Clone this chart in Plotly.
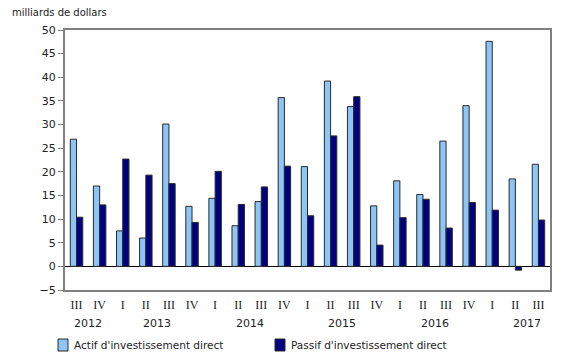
import plotly.graph_objects as go

quarters = ["III", "IV", "I", "II", "III", "IV", "I", "II", "III", "IV", "I",
            "II", "III", "IV", "I", "II", "III", "IV", "I", "II", "III"]
years = ["2012", "2013", "2014", "2015", "2016", "2017"]
year_centers = [0.5, 3.5, 7.5, 11.5, 15.5, 19.5]
actif = [26.9, 17.0, 7.5, 6.0, 30.1, 12.7, 14.4, 8.6, 13.7, 35.7, 21.1,
         39.2, 33.8, 12.8, 18.1, 15.2, 26.5, 34.0, 47.6, 18.5, 21.6]
passif = [10.4, 13.0, 22.7, 19.3, 17.5, 9.3, 20.1, 13.1, 16.8, 21.2, 10.7,
          27.6, 35.9, 4.5, 10.3, 14.2, 8.1, 13.5, 11.9, -0.8, 9.8]
series_names = ["Actif d'investissement direct", "Passif d'investissement direct"]
colors = ["#8EC5F7", "#000080"]
y_ticks = list(range(-5, 51, 5))

x = list(range(len(quarters)))
font = "DejaVu Sans, Verdana, sans-serif"
W, L, R = 580, 65, 30
pw = W - L - R

fig = go.Figure()
for name, vals, col in zip(series_names, [actif, passif], colors):
    fig.add_trace(go.Bar(x=x, y=vals, name=name, showlegend=False,
                         marker=dict(color=col, line=dict(color="#2a2a2a", width=1))))

annotations = [dict(text="milliards de dollars", xref="paper", yref="paper",
                    x=(10 - L) / pw, y=1.0, yshift=10, xanchor="left", yanchor="bottom",
                    showarrow=False, font=dict(family=font, size=10, color="#222"))]
for yr, c in zip(years, year_centers):
    annotations.append(dict(text=yr, x=c, xref="x", y=0, yref="paper", yshift=-25,
                            xanchor="center", yanchor="top", showarrow=False,
                            font=dict(family=font, size=11, color="#222")))

# manual legend
shapes = []
legend_px = [58, 275]
for name, col, px in zip(series_names, colors, legend_px):
    x0 = (px - L) / pw
    x1 = (px + 10 - L) / pw
    shapes.append(dict(type="rect", xref="paper", yref="paper",
                       x0=x0, x1=x1, y0=(290 - 351) / 260, y1=(290 - 339) / 260,
                       fillcolor=col, line=dict(color="#2a2a2a", width=1)))
    annotations.append(dict(text=name, xref="paper", yref="paper",
                            x=(px + 14 - L) / pw, y=(290 - 345) / 260,
                            xanchor="left", yanchor="middle", showarrow=False,
                            font=dict(family=font, size=10.5, color="#222")))

fig.update_layout(
    width=580, height=360,
    margin=dict(l=L, r=R, t=30, b=70, autoexpand=False),
    plot_bgcolor="white", paper_bgcolor="white",
    barmode="group", bargap=0.46, bargroupgap=0.0,
    font=dict(family=font, size=11, color="#222"),
    showlegend=False,
    annotations=annotations,
    shapes=shapes,
    xaxis=dict(range=[-0.5, 20.5], tickvals=x, ticktext=quarters, ticks="",
               ticklabelstandoff=3,
               tickfont=dict(family="Liberation Serif, Times New Roman, serif", size=12, color="#222"),
               showline=True, linecolor="#808080", linewidth=2, mirror=True,
               showgrid=False, zeroline=False, fixedrange=True),
    yaxis=dict(range=[-5, 50], tickvals=y_ticks, ticks="outside", ticklen=5,
               tickcolor="#808080", showline=True, linecolor="#808080", linewidth=2,
               mirror=True, showgrid=False, zeroline=True, zerolinecolor="#000",
               zerolinewidth=1, tickfont=dict(family=font, size=11, color="#222")),
)

fig.write_html("out.html")
